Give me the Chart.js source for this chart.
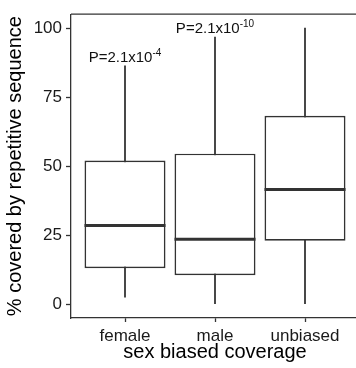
<!DOCTYPE html>
<html>
<head>
<meta charset="utf-8">
<script src="https://cdn.jsdelivr.net/npm/chart.js@4"></script>
<style>
  html, body { margin: 0; padding: 0; overflow: hidden; background: #fff; }
  #wrap { width: 362px; height: 368px; }
</style>
</head>
<body>
<div id="wrap"><canvas id="c" width="362" height="368"></canvas></div>
<script>
// box plot summaries
var groups = ['female', 'male', 'unbiased'];
var whiskerLow = [2.5, 0, 0];
var q1 = [13, 10.5, 23];
var median = [28.5, 23.5, 41.5];
var q3 = [52, 54.5, 68.2];
var whiskerHigh = [86.3, 96.7, 100];
var pMantissa = ['P=2.1x10', 'P=2.1x10', ''];
var pExponent = ['-4', '-10', ''];
var yTicks = [0, 25, 50, 75, 100];

var ink = '#333333';
var font = 'Liberation Sans, Arial, Helvetica, sans-serif';

var positions = groups.map(function (g, i) { return i + 1; });

var boxPlugin = {
    id: 'boxExtras',
    afterDatasetsDraw: function (chart) {
        var ctx = chart.ctx;
        var area = chart.chartArea;
        var y = chart.scales.y;
        var boxes = chart.getDatasetMeta(0).data;

        ctx.save();
        // top border of the panel
        ctx.strokeStyle = ink;
        ctx.lineWidth = 1.3;
        ctx.beginPath();
        ctx.moveTo(area.left, area.top);
        ctx.lineTo(area.right + 5, area.top);
        ctx.stroke();

        // medians
        ctx.lineWidth = 3;
        boxes.forEach(function (bar, i) {
            var py = y.getPixelForValue(median[i]);
            ctx.beginPath();
            ctx.moveTo(bar.x - bar.width / 2, py);
            ctx.lineTo(bar.x + bar.width / 2, py);
            ctx.stroke();
        });

        // p-value labels above the whiskers
        ctx.fillStyle = '#111';
        ctx.textBaseline = 'alphabetic';
        boxes.forEach(function (bar, i) {
            if (!pMantissa[i]) return;
            ctx.font = '15px ' + font;
            var w1 = ctx.measureText(pMantissa[i]).width;
            ctx.font = '10px ' + font;
            var w2 = ctx.measureText(pExponent[i]).width;
            var x0 = bar.x - (w1 + w2) / 2;
            var base = y.getPixelForValue(whiskerHigh[i]) - 4;
            ctx.font = '15px ' + font;
            ctx.textAlign = 'left';
            ctx.fillText(pMantissa[i], x0, base);
            ctx.font = '10px ' + font;
            ctx.fillText(pExponent[i], x0 + w1, base - 6);
        });
        ctx.restore();
    }
};

new Chart(document.getElementById('c'), {
    type: 'bar',
    data: {
        datasets: [
            {
                label: 'box',
                data: positions.map(function (p, i) { return { x: p, y: [q1[i], q3[i]] }; }),
                backgroundColor: '#ffffff',
                borderColor: ink,
                borderWidth: 1.7,
                borderSkipped: false,
                barPercentage: 0.9,
                categoryPercentage: 1,
                grouped: false,
                order: 0
            },
            {
                label: 'whisker',
                data: positions.map(function (p, i) { return { x: p, y: [whiskerLow[i], whiskerHigh[i]] }; }),
                backgroundColor: '#444444',
                borderWidth: 0,
                barThickness: 1.3,
                grouped: false,
                order: 1
            }
        ]
    },
    options: {
        responsive: false,
        animation: false,
        events: [],
        layout: { padding: { left: 0, top: 14, right: 3, bottom: 0 } },
        plugins: {
            legend: { display: false },
            tooltip: { enabled: false }
        },
        scales: {
            x: {
                type: 'linear',
                min: 0.4,
                max: 3.6,
                offset: false,
                afterBuildTicks: function (scale) {
                    scale.ticks = positions.map(function (p) { return { value: p }; });
                },
                afterFit: function (scale) { scale.height = 50; },
                ticks: {
                    callback: function (v) { return groups[v - 1]; },
                    color: '#1a1a1a',
                    font: { family: font, size: 17 },
                    padding: 4,
                    maxRotation: 0
                },
                grid: {
                    offset: false,
                    drawOnChartArea: false,
                    tickLength: 4,
                    tickColor: ink,
                    tickWidth: 1.3
                },
                border: { display: true, color: ink, width: 1.3 },
                title: {
                    display: true,
                    text: 'sex biased coverage',
                    color: '#000',
                    font: { family: font, size: 20 },
                    padding: { top: 0, bottom: 4 }
                }
            },
            y: {
                min: -5,
                max: 105,
                afterBuildTicks: function (scale) {
                    scale.ticks = yTicks.map(function (v) { return { value: v }; });
                },
                afterFit: function (scale) { scale.width = 71; },
                ticks: {
                    color: '#1a1a1a',
                    font: { family: font, size: 17 },
                    padding: 4
                },
                grid: {
                    drawOnChartArea: false,
                    tickLength: 5,
                    tickColor: ink,
                    tickWidth: 1.3
                },
                border: { display: true, color: ink, width: 1.3 },
                title: {
                    display: true,
                    text: '% covered by repetitive sequence',
                    color: '#000',
                    font: { family: font, size: 20 },
                    padding: { top: 3, bottom: 0 }
                }
            }
        }
    },
    plugins: [boxPlugin]
});
</script>
</body>
</html>
